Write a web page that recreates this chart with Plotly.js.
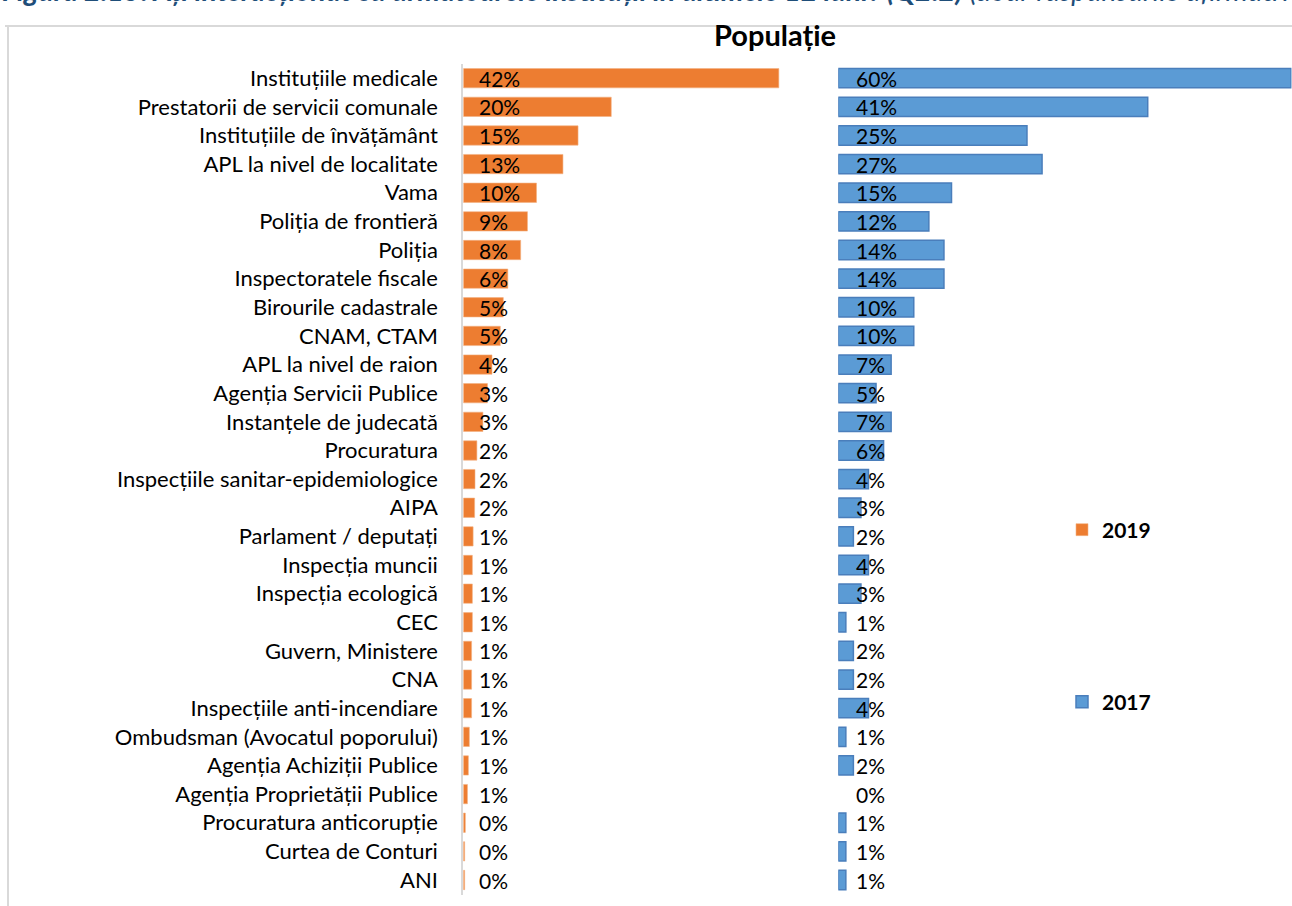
<!DOCTYPE html>
<html>
<head>
<meta charset="utf-8">
<script src="https://cdn.plot.ly/plotly-3.0.1.min.js"></script>
<style>html,body{margin:0;padding:0;background:#fff;}#chart{width:1292px;height:906px;}</style>
</head>
<body>
<div id="chart"></div>
<script>
const categories = [
  "Instituțiile medicale",
  "Prestatorii de servicii comunale",
  "Instituțiile de învățământ",
  "APL la nivel de localitate",
  "Vama",
  "Poliția de frontieră",
  "Poliția",
  "Inspectoratele fiscale",
  "Birourile cadastrale",
  "CNAM, CTAM",
  "APL la nivel de raion",
  "Agenția Servicii Publice",
  "Instanțele de judecată",
  "Procuratura",
  "Inspecțiile sanitar-epidemiologice",
  "AIPA",
  "Parlament / deputați",
  "Inspecția muncii",
  "Inspecția ecologică",
  "CEC",
  "Guvern, Ministere",
  "CNA",
  "Inspecțiile anti-incendiare",
  "Ombudsman (Avocatul poporului)",
  "Agenția Achiziții Publice",
  "Agenția Proprietății Publice",
  "Procuratura anticorupție",
  "Curtea de Conturi",
  "ANI"
];
const values2019 = [41.8, 19.6, 15.2, 13.2, 9.7, 8.5, 7.6, 5.9, 5.3, 4.9, 3.8, 3.2, 2.6, 1.8, 1.55, 1.5, 1.3, 1.2, 1.2, 1.2, 1.1, 1.1, 1.1, 0.8, 0.67, 0.55, 0.27, 0.18, 0.18];
const values2017 = [60, 41, 25, 27, 15, 12, 14, 14, 10, 10, 7, 5, 7, 6, 4, 3, 2, 4, 3, 1, 2, 2, 4, 1, 2, 0, 1, 1, 1];
const seriesNames = ["2019", "2017"];
const panelTitle = "Populație";
const headerText = "<b><i>Figura 2.15: Ați interacționat cu următoarele instituții în ultimele 12 luni? (Q2.2)</i></b><i> (doar răspunsurile afirmative)</i>";

const FONT = "Lato, 'Open Sans', sans-serif";
const W = 1292, H = 906;
const px = v => v / W;
const py = v => 1 - v / H;

const traces = [
  {
    type: "bar", orientation: "h", name: seriesNames[0],
    y: categories, x: values2019, xaxis: "x", yaxis: "y",
    marker: {color: "#ED7D31", line: {color: "#F4B183", width: 0.6}},
    width: 0.675, legend: "legend", hoverinfo: "y+x"
  },
  {
    type: "bar", orientation: "h", name: seriesNames[1],
    y: categories, x: values2017, xaxis: "x2", yaxis: "y2",
    marker: {color: "#5B9BD5", line: {color: "#4A7EBB", width: values2017.map(v => v > 0 ? 1.5 : 0)}},
    width: 0.675, legend: "legend2", hoverinfo: "y+x"
  }
];

const labelFont = {family: FONT, size: 21, color: "#000"};
const annotations = [];
categories.forEach((c, i) => {
  annotations.push({xref: "x", yref: "y", x: 0, y: c, text: Math.round(values2019[i]) + "%",
    xanchor: "left", yanchor: "middle", xshift: 14, showarrow: false, font: labelFont});
  annotations.push({xref: "x2", yref: "y2", x: 0, y: c, text: Math.round(values2017[i]) + "%",
    xanchor: "left", yanchor: "middle", xshift: 16, showarrow: false, font: labelFont});
});
annotations.push({xref: "paper", yref: "paper", x: 0, y: py(9), xanchor: "left", yanchor: "bottom",
  text: headerText, showarrow: false, font: {family: FONT, size: 28.5, color: "#1F4E79"}});
annotations.push({xref: "paper", yref: "paper", x: px(775), y: py(35), xanchor: "center", yanchor: "middle",
  text: "<b>" + panelTitle + "</b>", showarrow: false, font: {family: FONT, size: 29, color: "#000"}});

const yDomain = [py(894.5), py(63.7)];
const legendFont = {family: FONT, size: 21, color: "#000", weight: "bold"};
const layout = {
  width: W, height: H,
  margin: {l: 0, r: 0, t: 0, b: 0},
  paper_bgcolor: "#fff", plot_bgcolor: "rgba(0,0,0,0)",
  font: {family: FONT, size: 22, color: "#000"},
  showlegend: true,
  xaxis: {domain: [px(463.3), px(803)], range: [0, 45], visible: false, fixedrange: true},
  xaxis2: {domain: [px(838.3), px(1291.5)], range: [0, 60.05], visible: false, fixedrange: true},
  yaxis: {domain: yDomain, anchor: "x", type: "category", autorange: "reversed",
    showline: true, linecolor: "#D9D9D9", linewidth: 2, ticks: "", showgrid: false, zeroline: false,
    ticklabelstandoff: 19, tickfont: {family: FONT, size: 22, color: "#000"}},
  yaxis2: {domain: yDomain, anchor: "x2", type: "category", autorange: "reversed",
    showline: false, showticklabels: false, ticks: "", showgrid: false, zeroline: false},
  legend: {x: px(1062), y: py(530), xanchor: "left", yanchor: "middle", bgcolor: "rgba(0,0,0,0)",
    font: legendFont, itemwidth: 30},
  legend2: {x: px(1062), y: py(702), xanchor: "left", yanchor: "middle", bgcolor: "rgba(0,0,0,0)",
    font: legendFont, itemwidth: 30},
  shapes: [
    {type: "line", xref: "paper", yref: "paper", x0: px(5), x1: 1, y0: py(26), y1: py(26),
      line: {color: "#D9D9D9", width: 2}},
    {type: "line", xref: "paper", yref: "paper", x0: px(8), x1: px(8), y0: 0, y1: py(26),
      line: {color: "#D9D9D9", width: 2}}
  ],
  annotations: annotations,
  bargap: 0.325
};

Plotly.newPlot("chart", traces, layout, {displayModeBar: false, staticPlot: true});
</script>
</body>
</html>
